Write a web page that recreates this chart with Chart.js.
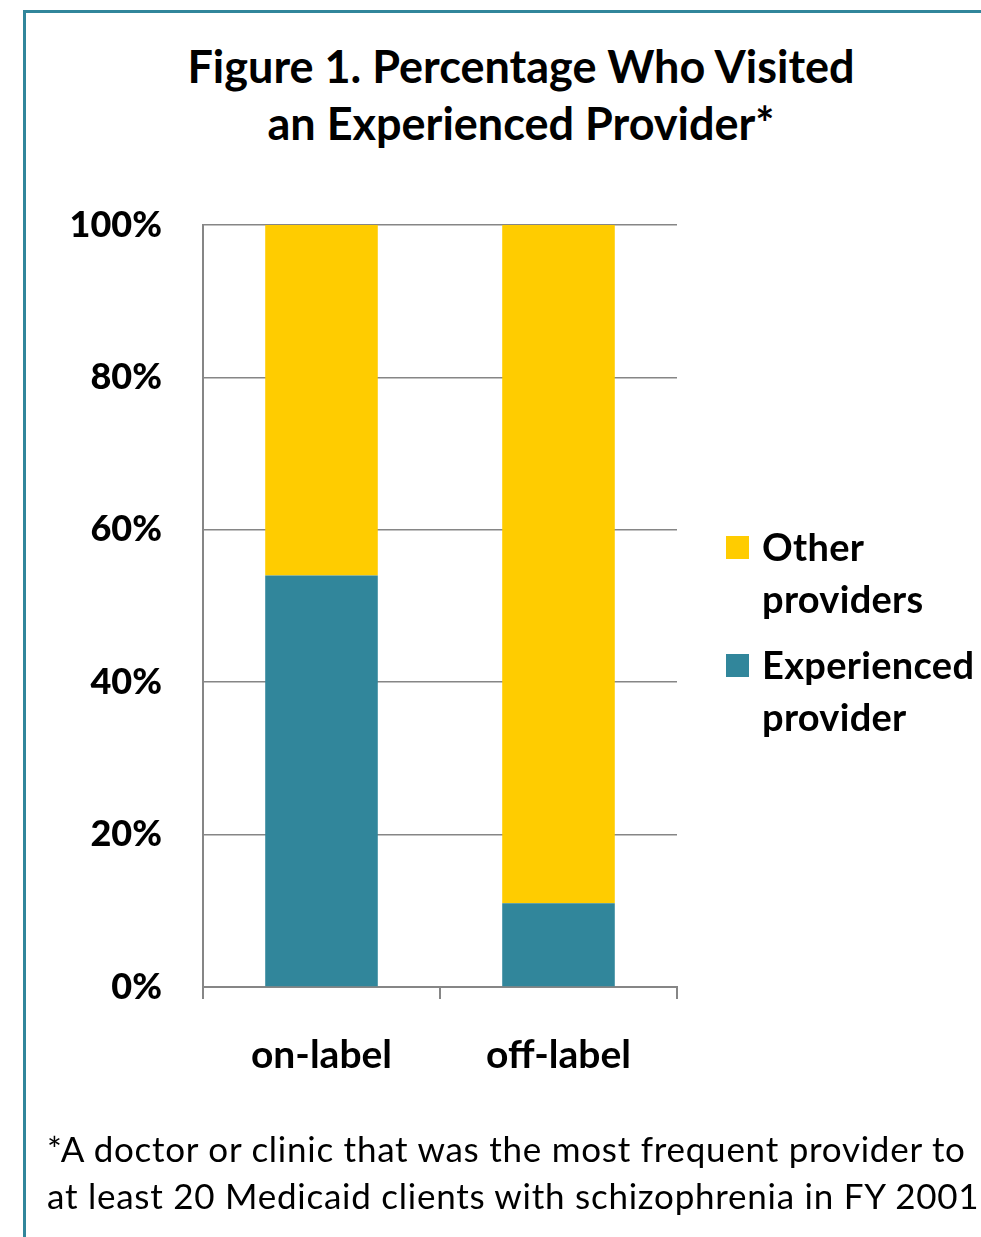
<!DOCTYPE html>
<html>
<head>
<meta charset="utf-8">
<script src="https://cdn.jsdelivr.net/npm/chart.js@4.4.0/dist/chart.umd.min.js"></script>
<style>
  html, body { margin: 0; padding: 0; background: #fff; }
  #page { position: relative; width: 981px; height: 1237px; overflow: hidden; font-family: "Lato", "Noto Sans", sans-serif; }
  .frame-top { position: absolute; left: 23px; top: 10px; width: 958px; height: 3px; background: #31869b; }
  .frame-left { position: absolute; left: 23px; top: 10px; width: 3px; height: 1227px; background: #31869b; }
  #title { position: absolute; left: 60px; width: 922px; top: 38px; text-align: center; font-weight: 700; font-size: 45px; line-height: 57px; color: #000; }
  #chart-wrap { position: absolute; left: 0; top: 0; width: 981px; height: 1237px; }
  #legend { position: absolute; left: 726px; top: 520px; font-weight: 700; font-size: 38px; line-height: 52px; letter-spacing: 0.3px; color: #000; white-space: nowrap; }
  .legend-item { position: relative; padding-left: 36px; margin-bottom: 14px; }
  .legend-box { position: absolute; left: 0; top: 16px; width: 23px; height: 23px; }
  #note { position: absolute; left: 47px; top: 1125px; font-size: 35px; line-height: 47px; letter-spacing: 0.75px; color: #000; white-space: nowrap; }
</style>
</head>
<body>
<div id="page">
  <div class="frame-top"></div>
  <div class="frame-left"></div>
  <div id="title">Figure 1. Percentage Who Visited<br>an Experienced Provider*</div>
  <div id="chart-wrap"><canvas id="chart"></canvas></div>
  <div id="legend"></div>
  <div id="note">*A doctor or clinic that was the most frequent provider to<br>at least 20 Medicaid clients with schizophrenia in FY 2001</div>
</div>
<script>
// chart data
const categories = ["on-label", "off-label"];
const experiencedValues = [54, 11];
const otherValues = [46, 89];
const seriesNames = ["Experienced provider", "Other providers"];
const legendLines = [["Other", "providers"], ["Experienced", "provider"]];
const yTicks = [0, 20, 40, 60, 80, 100];

const TEAL = "#31869b";
const GOLD = "#ffcc00";
const AXIS_GREY = "#868686";

const chartConfig = {
    type: "bar",
    data: {
        labels: categories,
        datasets: [
            {
                label: seriesNames[0],
                data: experiencedValues,
                backgroundColor: TEAL,
                borderWidth: 0,
                categoryPercentage: 0.95,
                barPercentage: 0.5
            },
            {
                label: seriesNames[1],
                data: otherValues,
                backgroundColor: GOLD,
                borderWidth: 0,
                categoryPercentage: 0.95,
                barPercentage: 0.5
            }
        ]
    },
    options: {
        responsive: true,
        maintainAspectRatio: false,
        animation: false,
        layout: {
            padding: { left: 0, right: 304, top: 225, bottom: 150 }
        },
        plugins: {
            legend: { display: false },
            tooltip: { enabled: false }
        },
        scales: {
            x: {
                stacked: true,
                afterFit: function(scale) { scale.height = 100; },
                border: { color: AXIS_GREY, width: 2 },
                grid: {
                    drawOnChartArea: false,
                    drawTicks: true,
                    tickLength: 12,
                    color: AXIS_GREY,
                    lineWidth: 2
                },
                ticks: {
                    color: "#000",
                    padding: 33,
                    font: { family: "Lato", weight: "bold", size: 39 }
                }
            },
            y: {
                stacked: true,
                min: 0,
                max: 100,
                afterFit: function(scale) { scale.width = 203; },
                afterBuildTicks: function(scale) {
                    scale.ticks = yTicks.map(v => ({ value: v }));
                },
                border: { color: AXIS_GREY, width: 2 },
                grid: {
                    drawTicks: false,
                    color: AXIS_GREY,
                    lineWidth: 1.5
                },
                ticks: {
                    color: "#000",
                    padding: 41,
                    font: { family: "Lato", weight: "900", size: 36 },
                    callback: function(value) { return value + "%"; }
                }
            }
        }
    }
};

const chart = new Chart(document.getElementById("chart").getContext("2d"), chartConfig);

// HTML legend, other providers listed first like the original
const legendEl = document.getElementById("legend");
[1, 0].forEach((dsIndex, i) => {
    const ds = chart.data.datasets[dsIndex];
    const item = document.createElement("div");
    item.className = "legend-item";
    const box = document.createElement("span");
    box.className = "legend-box";
    box.style.background = ds.backgroundColor;
    item.appendChild(box);
    item.appendChild(document.createTextNode(legendLines[i][0]));
    item.appendChild(document.createElement("br"));
    item.appendChild(document.createTextNode(legendLines[i][1]));
    legendEl.appendChild(item);
});
</script>
</body>
</html>
